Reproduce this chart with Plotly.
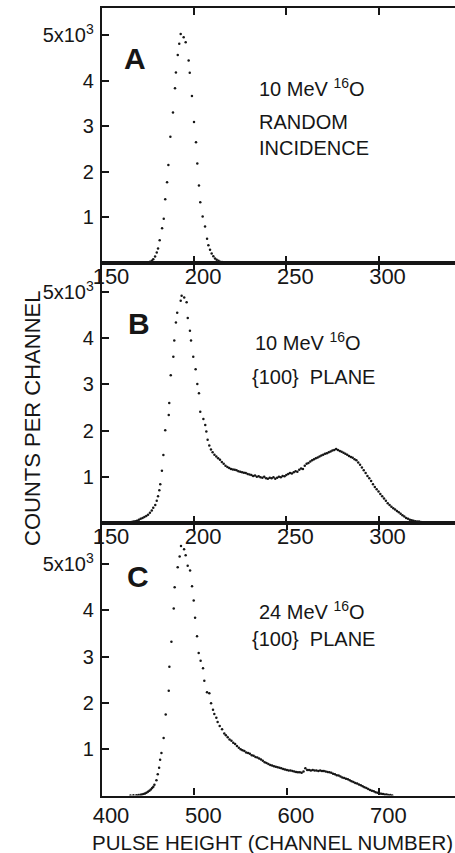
import plotly.graph_objects as go

# ---------------- data (channel, counts in units of 10^3) ----------------
panel_a = [
    (170, 0.0), (171, 0.003), (172, 0.005), (173, 0.008), (174, 0.012), (175, 0.018),
    (176.0, 0.03), (177.0, 0.05), (177.8, 0.08), (178.8, 0.14), (179.7, 0.23), (180.4, 0.32),
    (181.3, 0.50), (182.6, 0.76), (183.5, 0.97), (184.3, 1.40), (185.3, 1.77), (186.0, 2.15),
    (187.1, 2.77), (188.5, 3.30), (189.6, 3.83), (190.1, 4.18), (191.1, 4.56), (191.9, 4.81),
    (192.7, 5.02), (194.3, 4.95), (195.4, 4.84), (197.0, 4.44), (197.6, 4.17), (198.8, 3.66),
    (199.9, 3.09), (201.0, 2.65), (201.7, 2.18), (202.6, 1.70), (203.3, 1.33), (204.6, 1.02),
    (205.9, 0.80), (207.0, 0.53), (207.7, 0.39), (208.6, 0.29), (209.5, 0.21), (210.4, 0.15),
    (211.3, 0.10), (212.2, 0.07), (213.2, 0.05), (214.0, 0.03), (215.1, 0.02), (216.2, 0.012),
    (217.2, 0.008), (218.3, 0.005), (219.4, 0.003), (220.5, 0.0),
]

panel_b = [
    (162, 0.0), (163, 0.005), (164, 0.01), (165, 0.015), (166, 0.02), (167, 0.03),
    (168, 0.04), (169, 0.05), (170, 0.07), (171, 0.09), (172, 0.11), (173, 0.13),
    (174, 0.15), (175, 0.18), (176, 0.22), (177, 0.27), (177.8, 0.33), (178.9, 0.39),
    (179.7, 0.48), (180.4, 0.58), (181.1, 0.71), (181.6, 0.84), (182.5, 1.13), (183.3, 1.47),
    (184.3, 2.01), (186.2, 2.34), (186.5, 2.60), (187.3, 3.20), (188.7, 3.60), (189.2, 3.95),
    (190.1, 4.34), (190.8, 4.55), (192.7, 4.81), (193.2, 4.92), (194.6, 4.88), (195.9, 4.78),
    (196.5, 4.44), (197.7, 4.16), (198.3, 3.95), (199.5, 3.60), (200.8, 3.33), (201.7, 3.01),
    (202.6, 2.81), (203.3, 2.41), (205.0, 2.25), (206.0, 2.12), (206.6, 1.98), (207.3, 1.80),
    (208.2, 1.68), (209.1, 1.59), (210, 1.53), (211, 1.48), (212, 1.44), (213, 1.40),
    (214, 1.37), (215, 1.32), (216, 1.28), (217, 1.24), (218, 1.21), (219, 1.19),
    (220, 1.17), (221, 1.16), (222, 1.15), (223, 1.14), (224, 1.12), (225, 1.11),
    (226, 1.10), (227, 1.09), (228, 1.08), (229, 1.06), (230, 1.05), (231, 1.04),
    (232, 1.02), (233, 1.03), (234, 1.00), (235, 1.01), (236, 0.99), (237, 0.98),
    (238, 1.00), (239, 0.97), (240, 0.96), (241, 0.98), (242, 0.97), (243, 0.99),
    (244, 0.96), (245, 0.98), (246, 1.00), (247, 0.99), (248, 1.02), (249, 1.01),
    (250, 1.04), (251, 1.06), (252, 1.08), (253, 1.07), (254, 1.10), (255, 1.12),
    (256, 1.11), (257, 1.15), (258, 1.18), (259, 1.17), (260, 1.24), (261, 1.28),
    (262, 1.30), (263, 1.33), (264, 1.36), (265, 1.38), (266, 1.40), (267, 1.42),
    (268, 1.44), (269, 1.46), (270, 1.48), (271, 1.50), (272, 1.51), (273, 1.53),
    (274, 1.55), (275, 1.57), (276, 1.58), (277, 1.60), (278, 1.58), (279, 1.56),
    (280, 1.54), (281, 1.52), (282, 1.50), (283, 1.48), (284, 1.45), (285, 1.43),
    (286, 1.41), (287, 1.38), (288, 1.36), (289, 1.31), (290, 1.26), (291, 1.20),
    (292, 1.14), (293, 1.08), (294, 1.02), (295, 0.97), (296, 0.91), (297, 0.84),
    (298, 0.78), (299, 0.73), (300, 0.68), (301, 0.63), (302, 0.58), (303, 0.53),
    (304, 0.48), (305, 0.43), (306, 0.39), (307, 0.35), (308, 0.32), (309, 0.29),
    (310, 0.26), (311, 0.23), (312, 0.20), (313, 0.17), (314, 0.14), (315, 0.11),
    (316, 0.09), (317, 0.07), (318, 0.06), (319, 0.05), (320, 0.04), (321, 0.03),
    (322, 0.03), (323, 0.02), (324, 0.01), (326, 0.0),
]

panel_c = [
    (430.8, 0.0), (434.0, 0.003), (437.2, 0.005), (439.4, 0.01), (441.6, 0.015), (443.2, 0.02),
    (444.8, 0.03), (446.5, 0.045), (448.1, 0.06), (449.7, 0.08), (451.3, 0.10), (452.8, 0.13),
    (454.2, 0.16), (455.5, 0.19), (456.7, 0.23), (458.9, 0.33), (460.3, 0.46), (461.8, 0.60),
    (462.9, 0.77), (464.3, 0.92), (466.7, 1.24), (468.9, 1.75), (472.2, 2.26), (472.9, 2.78),
    (475.1, 3.32), (477.6, 4.04), (478.6, 4.50), (481.9, 4.93), (484.0, 5.16), (485.5, 5.39),
    (488.8, 5.32), (490.5, 5.19), (492.7, 4.96), (495.3, 4.86), (497.4, 4.52), (499.2, 4.21),
    (500.7, 3.84), (502.8, 3.44), (504.6, 3.08), (506.7, 2.91), (509.3, 2.75), (510.7, 2.48),
    (513.6, 2.23), (516.1, 2.21), (518.0, 1.99), (520.1, 1.85), (521.5, 1.76), (523.7, 1.68),
    (525.1, 1.59), (527.3, 1.50), (529.9, 1.43), (532.3, 1.34), (534, 1.30), (536, 1.26),
    (538, 1.21), (540, 1.18), (542, 1.14), (544, 1.11), (546, 1.07), (548, 1.03),
    (550, 1.00), (552, 0.98), (554, 0.96), (556, 0.93), (558, 0.92), (560, 0.90),
    (562, 0.87), (564, 0.86), (566, 0.83), (568, 0.82), (570, 0.80), (572, 0.78),
    (574, 0.75), (576, 0.72), (578, 0.70), (580, 0.68), (582, 0.66), (584, 0.65),
    (586, 0.63), (588, 0.62), (590, 0.61), (592, 0.60), (594, 0.59), (596, 0.57),
    (598, 0.56), (600, 0.55), (602, 0.54), (604, 0.54), (606, 0.53), (608, 0.52),
    (610, 0.51), (612, 0.50), (614, 0.50), (616, 0.49), (618, 0.52), (620, 0.59),
    (622, 0.55), (624, 0.55), (626, 0.54), (628, 0.55), (630, 0.54), (632, 0.54),
    (634, 0.53), (636, 0.54), (638, 0.53), (640, 0.53), (642, 0.52), (644, 0.51),
    (646, 0.50), (648, 0.49), (650, 0.47), (652, 0.46), (654, 0.44), (656, 0.43),
    (658, 0.41), (660, 0.39), (662, 0.38), (664, 0.36), (666, 0.35), (668, 0.33),
    (670, 0.31), (672, 0.29), (674, 0.27), (676, 0.26), (678, 0.24), (680, 0.22),
    (682, 0.20), (684, 0.18), (686, 0.16), (688, 0.14), (690, 0.12), (692, 0.10),
    (694, 0.09), (696, 0.07), (698, 0.06), (700, 0.05), (702, 0.04), (704, 0.03),
    (706, 0.02), (708, 0.02), (710, 0.01), (712, 0.01), (714, 0.0),
]

ab_ticks = [150, 200, 250, 300]
c_ticks = [400, 500, 600, 700]
y_ticks = [1, 2, 3, 4, 5]
y_ticktext = ["1", "2", "3", "4", "5x10<sup>3</sup>"]

# ---------------- figure ----------------
W, H = 455, 853
FONT = "Liberation Sans, Arial, sans-serif"
INK = "#161616"

fig = go.Figure()
for i, data in enumerate([panel_a, panel_b, panel_c]):
    sfx = "" if i == 0 else str(i + 1)
    fig.add_trace(go.Scatter(
        x=[p[0] for p in data], y=[p[1] for p in data],
        mode="markers", marker=dict(size=2.5, color=INK),
        xaxis="x" + sfx, yaxis="y" + sfx, showlegend=False, hoverinfo="skip"))


def py(p):  # pixel from top -> paper y
    return 1 - p / H


def px(p):
    return p / W


xdom = [px(102), 1.0]
doms = [[py(263), py(8)], [py(523), py(263)], [py(795.5), py(523)]]
yranges = [[0, 5.592], [0, 5.628], [0, 5.886]]
xranges = [[150, 341.5], [150, 341.5], [400, 781.9]]
xticks = [ab_ticks, ab_ticks, c_ticks]
xstandoff = [-8, -8, -1]

axis_common = dict(showgrid=False, zeroline=False, showline=True, linecolor=INK,
                   linewidth=2.4, ticks="inside", tickcolor=INK, tickwidth=2,
                   automargin=False, fixedrange=True)

layout = dict(width=W, height=H, margin=dict(l=0, r=0, t=0, b=0),
              paper_bgcolor="white", plot_bgcolor="white",
              font=dict(family=FONT, color=INK), showlegend=False)
for i in range(3):
    sfx = "" if i == 0 else str(i + 1)
    layout["xaxis" + sfx] = dict(
        axis_common, domain=xdom, range=xranges[i], anchor="y" + sfx,
        tickvals=xticks[i], ticktext=[str(t) for t in xticks[i]], ticklen=7,
        mirror="ticks", tickfont=dict(size=22, family=FONT, color=INK),
        ticklabelshift=9, ticklabelstandoff=xstandoff[i])
    layout["yaxis" + sfx] = dict(
        axis_common, domain=doms[i], range=yranges[i], anchor="x" + sfx,
        tickvals=y_ticks, ticktext=y_ticktext, ticklen=7, mirror=False,
        tickfont=dict(size=20, family=FONT, color=INK), ticklabelstandoff=2)

fig.update_layout(**layout)

ann = []


def text(t, x, y, size=20, bold=False, anchor="left", angle=0):
    ann.append(dict(text=("<b>%s</b>" % t) if bold else t, x=px(x), y=py(y),
                    xref="paper", yref="paper", xanchor=anchor, yanchor="middle",
                    showarrow=False, textangle=angle,
                    font=dict(size=size, family=FONT, color=INK)))


text("A", 135, 58, size=30, bold=True, anchor="center")
text("10 MeV <sup>16</sup>O", 257, 87.5)
text("RANDOM", 257, 122.5)
text("INCIDENCE", 257, 147.5)

text("B", 139, 323.5, size=30, bold=True, anchor="center")
text("10 MeV <sup>16</sup>O", 253, 341.5)
text("{100}\u00a0\u00a0PLANE", 250, 377)

text("C", 137.5, 576, size=30, bold=True, anchor="center")
text("24 MeV <sup>16</sup>O", 257, 610)
text("{100}\u00a0\u00a0PLANE", 250, 639)

text("COUNTS PER CHANNEL", 32, 419, size=22, anchor="center", angle=-90)
text("PULSE HEIGHT (CHANNEL NUMBER)", 90, 842, size=20.5)

fig.update_layout(annotations=ann)

fig.write_html("out.html", config=dict(displayModeBar=False),
               post_script="document.body.style.margin='0';document.body.style.padding='0';")
